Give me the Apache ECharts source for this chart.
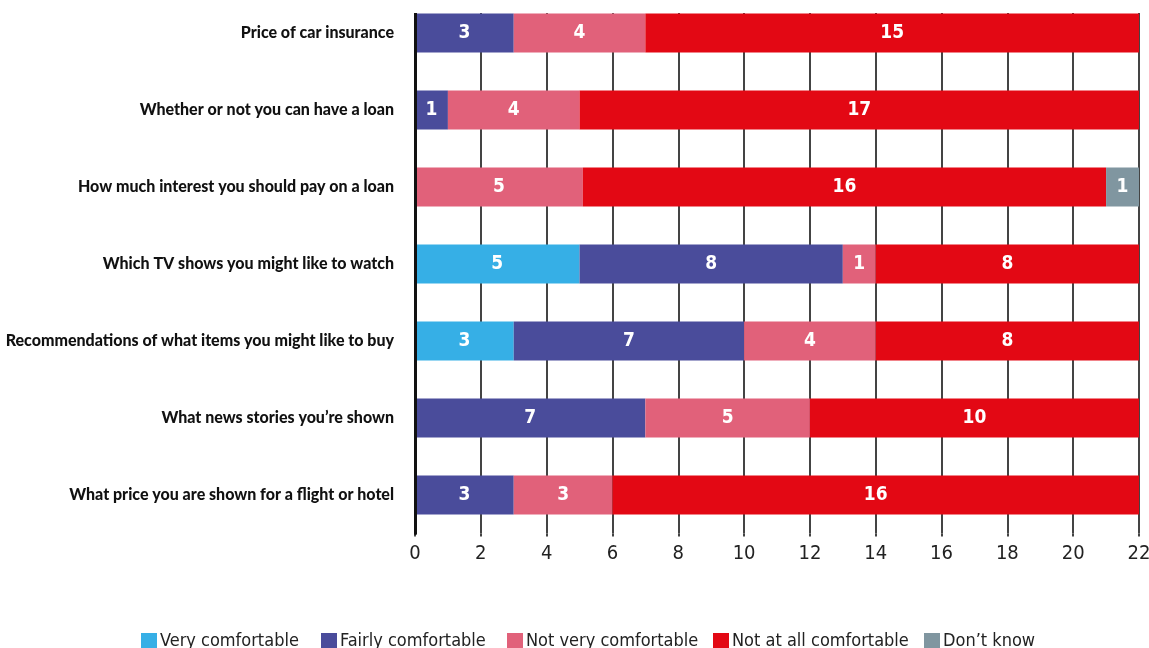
<!DOCTYPE html>
<html>
<head>
<meta charset="utf-8">
<script src="https://cdn.jsdelivr.net/npm/echarts@6/dist/echarts.min.js"></script>
<style>
html,body{margin:0;padding:0;background:#fff;}
#c{width:1149px;height:648px;}
</style>
</head>
<body>
<div id="c"></div>
<script>
const categories = [
  "Price of car insurance",
  "Whether or not you can have a loan",
  "How much interest you should pay on a loan",
  "Which TV shows you might like to watch",
  "Recommendations of what items you might like to buy",
  "What news stories you\u2019re shown",
  "What price you are shown for a flight or hotel"
];
const seriesNames = ["Very comfortable", "Fairly comfortable", "Not very comfortable", "Not at all comfortable", "Don\u2019t know"];
const veryComfortable   = [null, null, null, 5, 3, null, null];
const fairlyComfortable = [3, 1, null, 8, 7, 7, 3];
const notVeryComfortable = [4, 4, 5.1, 1, 4, 5, 3];
const notAtAllComfortable = [15, 17, 15.9, 8, 8, 10, 16];
const dontKnow = [null, null, 1, null, null, null, null];
const xTicks = { min: 0, max: 22, interval: 2 };

const colors = ["#36afe6", "#4a4c9b", "#e1617a", "#e30814", "#8096a0"];
const seriesData = [veryComfortable, fairlyComfortable, notVeryComfortable, notAtAllComfortable, dontKnow];
const legendLefts = [141, 321, 507, 713, 924];
const condensed = '"Liberation Sans Narrow", "DejaVu Sans Condensed", Roboto, sans-serif';

const chart = echarts.init(document.getElementById('c'), null, { renderer: 'canvas' });
chart.setOption({
  animation: false,
  backgroundColor: '#ffffff',
  color: colors,
  grid: { left: 415, right: 10, top: -5.5, bottom: 114.5, containLabel: false, outerBoundsMode: 'none' },
  legend: seriesNames.map((n, i) => ({
    data: [n],
    left: legendLefts[i],
    top: 632,
    padding: 0,
    itemWidth: 16,
    itemHeight: 16,
    icon: 'rect',
    textStyle: { fontFamily: condensed, fontSize: 18, color: '#222', padding: [2, 0, 0, -2] }
  })),
  xAxis: {
    type: 'value',
    min: xTicks.min, max: xTicks.max, interval: xTicks.interval,
    axisLine: { show: false },
    axisTick: { show: true, length: 3, lineStyle: { color: '#444', width: 2 } },
    splitLine: { show: true, lineStyle: { color: '#444', width: 2 } },
    axisLabel: { margin: 10, fontFamily: condensed, fontSize: 20, color: '#222' }
  },
  yAxis: {
    type: 'category',
    inverse: true,
    data: categories,
    axisLine: { show: true, lineStyle: { color: '#111', width: 3 } },
    axisTick: { show: false },
    axisLabel: { margin: 21, fontFamily: 'Lato, Roboto, sans-serif', fontWeight: 900, fontSize: 16, color: '#111' },
    z: 5
  },
  graphic: [{
    type: 'rect', z: 100,
    shape: { x: 405, y: -10, width: 744, height: 23 },
    style: { fill: '#ffffff' }
  }],
  series: seriesNames.map((name, i) => ({
    name: name,
    type: 'bar',
    stack: 'total',
    barWidth: 39,
    data: seriesData[i],
    itemStyle: { color: colors[i] },
    label: {
      show: true,
      position: 'inside',
      color: '#ffffff',
      fontFamily: condensed,
      fontWeight: 'bold',
      fontSize: 19,
      formatter: p => (p.value == null ? '' : String(Math.round(p.value)))
    }
  }))
});
</script>
</body>
</html>
